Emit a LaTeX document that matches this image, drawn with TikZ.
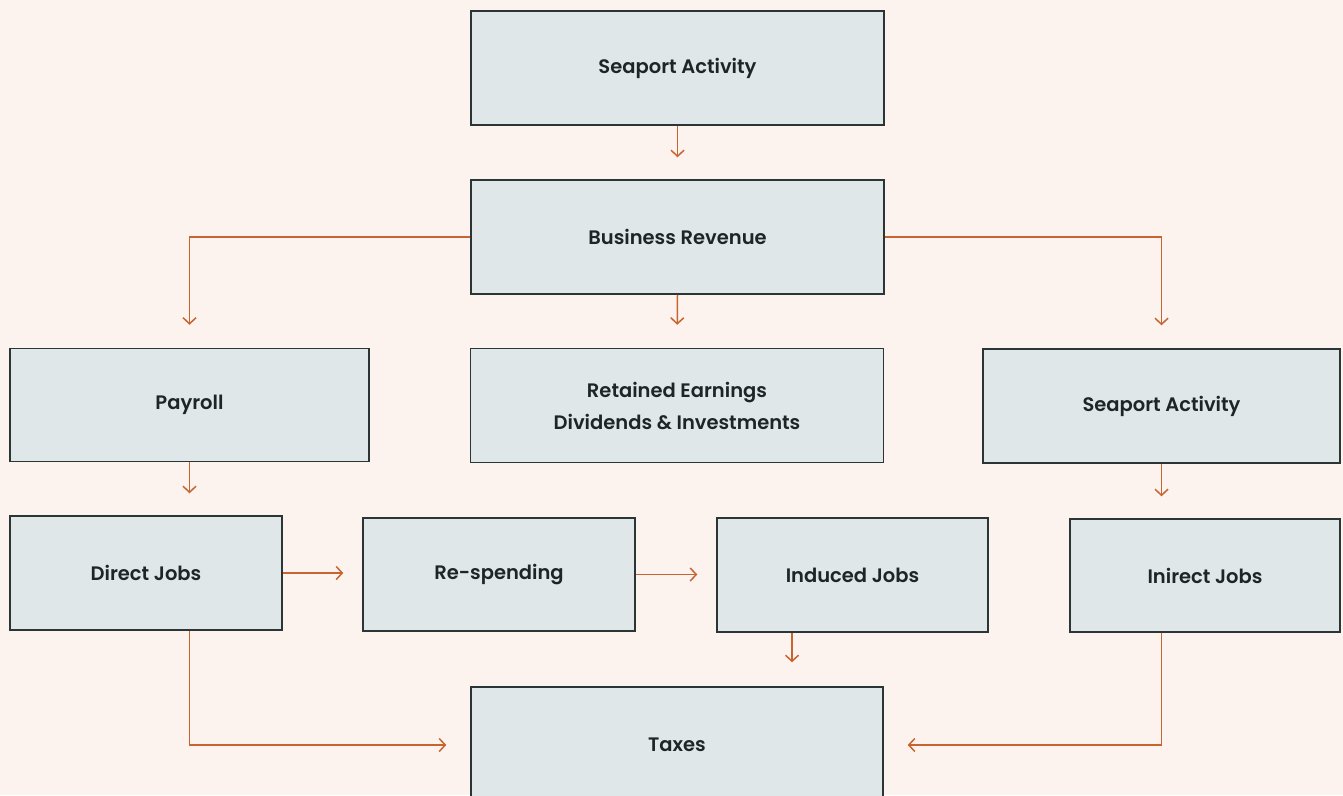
\documentclass[tikz,border=0pt]{standalone}
\usepackage{fontspec}
\setmainfont{Poppins SemiBold}
\usetikzlibrary{arrows.meta,calc}
\definecolor{bgc}{HTML}{FCF2EE}
\definecolor{boxfill}{HTML}{E0E7E8}
\definecolor{boxline}{HTML}{2C3535}
\definecolor{arr}{HTML}{C8642F}
\definecolor{txt}{HTML}{1E2526}
\tikzset{
  fbox/.style={draw=boxline, line width=1.5pt, fill=boxfill, text=txt, font=\fontsize{19.5}{32}\selectfont, align=center, inner sep=0pt},
  flow/.style={draw=arr, line width=1.5pt, -{Straight Barb[length=6pt,width=13pt,line width=1.5pt]}, shorten >=22pt},
}
\begin{document}
\begin{tikzpicture}[x=1pt,y=-1pt]
\fill[bgc] (0,0) rectangle (1343,795);
\clip (0,0) rectangle (1343,795);
\useasboundingbox (0,0) rectangle (1343,795);
% boxes
\node[fbox, minimum width=413pt, minimum height=114pt] (s1) at (677.5,68) {Seaport Activity};
\node[fbox, minimum width=413pt, minimum height=114pt] (br) at (677.5,237) {Business Revenue};
\node[fbox, minimum width=359pt, minimum height=113pt] (pay) at (189.5,405) {Payroll};
\node[fbox, minimum width=413pt, minimum height=114pt] (ret) at (677,405.5) {Retained Earnings\\Dividends \& Investments};
\node[fbox, minimum width=357pt, minimum height=114pt] (s2) at (1161.5,406) {Seaport Activity};
\node[fbox, minimum width=272pt, minimum height=114pt] (dir) at (146,573) {Direct Jobs};
\node[fbox, minimum width=272pt, minimum height=113pt] (res) at (499,574.5) {Re-spending};
\node[fbox, minimum width=271pt, minimum height=114pt] (ind) at (852.5,575) {Induced Jobs};
\node[fbox, minimum width=270pt, minimum height=113pt] (inj) at (1205,575.5) {Inirect Jobs};
\node[fbox, minimum width=412pt, minimum height=116pt] (tax) at (677,745) {Taxes};
\coordinate (indx) at (792,0);
% connectors
\draw[flow] (s1.south) -- (br.north);
\draw[flow, shorten >=23pt] (br.west) -| (pay.north);
\draw[flow, shorten >=23pt] (br.east) -| (s2.north);
\draw[flow, shorten >=23pt] (br.south) -- (ret.north);
\draw[flow] (pay.south) -- (pay.south |- dir.north);
\draw[flow] (s2.south) -- (s2.south |- inj.north);
\draw[flow, shorten >=19pt] (dir.east) -- (dir.east -| res.west);
\draw[flow, shorten >=19pt] (res.east) -- (res.east -| ind.west);
\draw[flow, shorten >=24pt] (indx |- ind.south) -- (indx |- tax.north);
\draw[flow, shorten >=24pt] (pay.south |- dir.south) |- (tax.west);
\draw[flow, shorten >=24pt] (s2.south |- inj.south) |- (tax.east);
\end{tikzpicture}
\end{document}
